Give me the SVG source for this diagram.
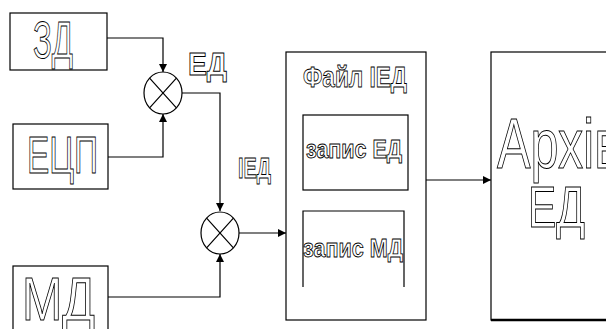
<svg xmlns="http://www.w3.org/2000/svg" width="606" height="329" viewBox="0 0 606 329">
<defs>
<style>
.box{fill:#fff;stroke:#000;stroke-width:1.2}
.ln{fill:none;stroke:#000;stroke-width:1.2}
.ot{font-family:"Liberation Sans",Arial,sans-serif;fill:#fff;stroke:#000;stroke-width:1}
.ob{font-family:"Liberation Sans",Arial,sans-serif;font-weight:bold;fill:#fff;stroke:#000;stroke-width:0.9}
</style>
<marker id="ar" viewBox="0 0 10 10" refX="10" refY="5" markerWidth="9" markerHeight="8" markerUnits="userSpaceOnUse" orient="auto">
<path d="M0,0 L10,5 L0,10 Z" fill="#000"/>
</marker>
</defs>
<rect width="606" height="329" fill="#fff"/>
<g id="connectors">
<path class="ln" d="M107,38 H163 V72" marker-end="url(#ar)"/>
<path class="ln" d="M108,157 H163 V114" marker-end="url(#ar)"/>
<path class="ln" d="M182,93 H220 V211" marker-end="url(#ar)"/>
<path class="ln" d="M108,297 H220 V254" marker-end="url(#ar)"/>
<path class="ln" d="M239,233 H286" marker-end="url(#ar)"/>
<path class="ln" d="M426,180 H491" marker-end="url(#ar)"/>
</g>
<g id="zd">
<rect class="box" x="10" y="13" width="97" height="57"/>
<text class="ot" x="33" y="58" font-size="52" textLength="40" lengthAdjust="spacingAndGlyphs">ЗД</text>
</g>
<g id="ecp">
<rect class="box" x="13" y="124" width="95" height="65"/>
<text class="ot" x="27" y="173" font-size="51" textLength="71" lengthAdjust="spacingAndGlyphs">ЕЦП</text>
</g>
<g id="md">
<rect class="box" x="13" y="266" width="95" height="70"/>
<text class="ot" x="22" y="320" font-size="62" textLength="73" lengthAdjust="spacingAndGlyphs">МД</text>
</g>
<g id="sum1">
<ellipse class="box" cx="163" cy="93" rx="19" ry="21"/>
<path class="ln" d="M149.6,78.2 L176.4,107.8 M176.4,78.2 L149.6,107.8"/>
</g>
<g id="sum2">
<ellipse class="box" cx="220" cy="233" rx="19" ry="21"/>
<path class="ln" d="M206.6,218.2 L233.4,247.8 M233.4,218.2 L206.6,247.8"/>
</g>
<g id="label-ed">
<text class="ob" x="188" y="75" font-size="32" textLength="39" lengthAdjust="spacingAndGlyphs">ЕД</text>
</g>
<g id="label-ied">
<text class="ob" x="238" y="178" font-size="29" textLength="33" lengthAdjust="spacingAndGlyphs">ІЕД</text>
</g>
<g id="file">
<rect class="box" x="286" y="52" width="140" height="268"/>
<text class="ob" x="303" y="87" font-size="30" textLength="104" lengthAdjust="spacingAndGlyphs">Файл ІЕД</text>
<rect class="box" x="303" y="115" width="105" height="75"/>
<text class="ob" x="306" y="158" font-size="25" textLength="96" lengthAdjust="spacingAndGlyphs">запис ЕД</text>
<path class="ln" d="M303,287 V211 H404 V287"/>
<text class="ob" x="303" y="257" font-size="26" textLength="100" lengthAdjust="spacingAndGlyphs">запис МД</text>
</g>
<g id="archive">
<rect class="box" x="491" y="52" width="130" height="268"/>
<path d="M491,320 H606" stroke="#000" stroke-width="2.4"/>
<text class="ot" x="497" y="168" font-size="70" textLength="124" lengthAdjust="spacingAndGlyphs">Архів</text>
<text class="ot" x="528" y="227" font-size="58" textLength="57" lengthAdjust="spacingAndGlyphs">ЕД</text>
</g>
</svg>
